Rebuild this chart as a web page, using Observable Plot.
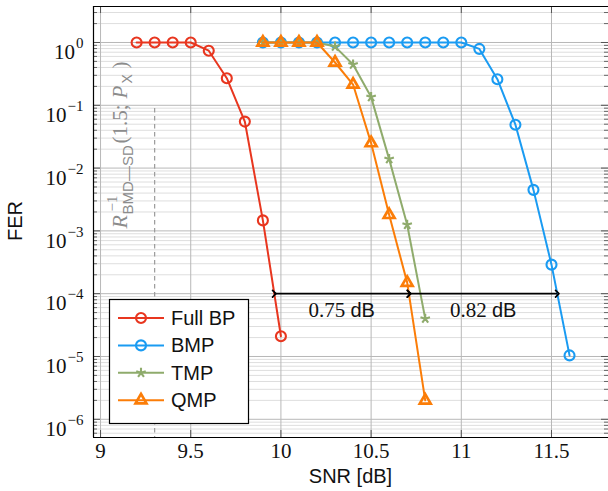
<!DOCTYPE html>
<html><head><meta charset="utf-8">
<script src="https://cdn.jsdelivr.net/npm/d3@7"></script>
<script src="https://cdn.jsdelivr.net/npm/@observablehq/plot@0.6"></script>
<style>html,body{margin:0;padding:0;background:#fff}</style>
</head><body><div id="chart"></div>
<script>
// ---- data ----
const snrFullBP = [9.2, 9.3, 9.4, 9.5, 9.6, 9.7, 9.8, 9.9, 10.0];
const ferFullBP = [1, 1, 1, 1, 0.74, 0.27, 0.055, 1.47e-3, 2.1e-5];
const snrBMP = [9.9, 10.0, 10.1, 10.2, 10.3, 10.4, 10.5, 10.6, 10.7, 10.8, 10.9, 11.0, 11.1, 11.2, 11.3, 11.4, 11.5, 11.6];
const ferBMP = [1, 1, 1, 1, 1, 1, 1, 1, 1, 1, 1, 1, 0.79, 0.26, 0.049, 4.5e-3, 2.9e-4, 1.04e-5];
const snrTMP = [9.9, 10.0, 10.1, 10.2, 10.3, 10.4, 10.5, 10.6, 10.7, 10.8];
const ferTMP = [1, 1, 1, 1, 0.86, 0.446, 0.135, 0.0139, 1.25e-3, 4.0e-5];
const snrQMP = [9.9, 10.0, 10.1, 10.2, 10.3, 10.4, 10.5, 10.6, 10.7, 10.8];
const ferQMP = [1, 1, 1, 1, 0.48, 0.214, 0.025, 1.8e-3, 1.5e-4, 2.0e-6];
const seriesNames = ["Full BP", "BMP", "TMP", "QMP"];
const xTicks = [9, 9.5, 10, 10.5, 11, 11.5];
const xTickLabels = ["9", "9.5", "10", "10.5", "11", "11.5"];
const yTicks = [1, 1e-1, 1e-2, 1e-3, 1e-4, 1e-5, 1e-6];
const yTickExp = ["0", "−1", "−2", "−3", "−4", "−5", "−6"];
const gapX = [[9.963, 10.71], [10.71, 11.532]];
const gapLevel = 1e-4;
const gapLabels = ["0.75", "0.82"];
const boundSNR = 9.3;
const boundTop = 0.089;

// ---- styles ----
const colors = ["#e8361f", "#1a9bf2", "#8fab6c", "#fb7d08"];
const serif = "'Liberation Serif','DejaVu Serif',serif";
const sans = "'Liberation Sans',Arial,sans-serif";
const W = 608, H = 491, mL = 93, mR = 0, mT = 6, mB = 54;
const xDomain = [8.961, 11.816];
const yDomain = [Math.pow(10, -6.29), Math.pow(10, 0.573)];
const xPx = (W - mL - mR) / (xDomain[1] - xDomain[0]);
const yPxDec = (H - mT - mB) / (Math.log10(yDomain[1]) - Math.log10(yDomain[0]));
const dxu = px => px / xPx;
const yMul = px => Math.pow(10, -px / yPxDec);

const minorY = [];
for (let k = -7; k <= 0; k++) for (let m = 2; m <= 9; m++) {
  const v = m * Math.pow(10, k);
  if (v > yDomain[0] && v < yDomain[1]) minorY.push(v);
}

const triangleSym = {draw(ctx, size) {
  const r = Math.sqrt(size / Math.PI), h = r * Math.sqrt(3) / 2;
  ctx.moveTo(0, -r); ctx.lineTo(h, r / 2); ctx.lineTo(-h, r / 2); ctx.closePath();
}};
const starSym = {draw(ctx, size) {
  const r = Math.sqrt(size / Math.PI);
  for (let i = 0; i < 5; i++) {
    const a = -Math.PI / 2 + i * 2 * Math.PI / 5;
    ctx.moveTo(0, 0); ctx.lineTo(r * Math.cos(a), r * Math.sin(a));
  }
}};
const symbols = ["circle", "circle", starSym, triangleSym];
const radii = [5, 5, 5, 6.3];
const markStroke = [2.1, 2.1, 2.1, 2.7];

const table = (xs, ys) => xs.map((x, i) => ({x, y: ys[i]}));
const series = [table(snrFullBP, ferFullBP), table(snrBMP, ferBMP), table(snrTMP, ferTMP), table(snrQMP, ferQMP)];

const seriesMarks = series.flatMap((d, i) => [
  Plot.line(d, {x: "x", y: "y", stroke: colors[i], strokeWidth: 2}),
  Plot.dot(d, {x: "x", y: "y", r: radii[i], symbol: () => symbols[i], stroke: colors[i], strokeWidth: markStroke[i], fill: "none"})
]);

const chart = Plot.plot({
  width: W, height: H,
  marginLeft: mL, marginRight: mR, marginTop: mT, marginBottom: mB,
  style: {background: "#fff", overflow: "hidden"},
  x: {domain: xDomain, label: null},
  y: {type: "log", domain: yDomain, label: null},
  symbol: {type: "identity"},
  marks: [
    Plot.ruleY(minorY, {stroke: "#dedede", strokeWidth: 1}),
    Plot.ruleY(yTicks, {stroke: "#b8b8b8", strokeWidth: 1}),
    Plot.ruleX(xTicks, {stroke: "#b8b8b8", strokeWidth: 1}),
    // inward ticks
    Plot.ruleY(minorY, {x1: xDomain[0], x2: xDomain[0] + dxu(4), stroke: "#666"}),
    Plot.ruleY(yTicks, {x1: xDomain[0], x2: xDomain[0] + dxu(7), stroke: "#555"}),
    Plot.ruleY(minorY, {x1: xDomain[1] - dxu(4), x2: xDomain[1], stroke: "#666"}),
    Plot.ruleY(yTicks, {x1: xDomain[1] - dxu(7), x2: xDomain[1], stroke: "#555"}),
    Plot.ruleX(xTicks, {y1: yDomain[1], y2: yDomain[1] * yMul(7), stroke: "#555"}),
    Plot.ruleX(xTicks, {y1: yDomain[0], y2: yDomain[0] / yMul(7), stroke: "#555"}),
    // frame
    Plot.ruleY([yDomain[1]], {stroke: "#000", strokeWidth: 1.2}),
    Plot.ruleY([yDomain[0]], {stroke: "#000", strokeWidth: 1.2}),
    Plot.ruleX([xDomain[0]], {stroke: "#000", strokeWidth: 1.2}),
    // bound line
    Plot.ruleX([boundSNR], {y1: boundTop, y2: yDomain[0], stroke: "#9a9a9a", strokeWidth: 1.2, strokeDasharray: "4.5,3.5"}),
    ...seriesMarks,
    Plot.link(gapX, {x1: d => d[0], x2: d => d[1], y1: () => gapLevel, y2: () => gapLevel,
      stroke: "#000", strokeWidth: 1.7, markerStart: "arrow", markerEnd: "arrow"}),
    Plot.text(gapX, {x: d => (d[0] + d[1]) / 2, y: () => gapLevel, text: (d, i) => gapLabels[i] + "|dB",
      dy: 16.5, fontSize: 21, fontFamily: serif, fill: "#111"}),
    Plot.axisX(xTicks, {tickSize: 0, tickPadding: 6, fontSize: 21, fontFamily: serif, fill: "#111",
      tickFormat: d => xTickLabels[xTicks.indexOf(d)], label: null}),
    Plot.axisY(yTicks, {tickSize: 0, tickPadding: 10, fontSize: 21, fontFamily: serif, fill: "#111",
      tickFormat: d => "10^" + yTickExp[yTicks.indexOf(d)], label: null})
  ]
});
document.getElementById("chart").appendChild(chart);

const svg = d3.select(chart);
const xs = chart.scale("x"), ys = chart.scale("y");

// y tick labels with superscripts; gap labels with sans "dB"
svg.selectAll("text").each(function() {
  const t = d3.select(this);
  const s = t.text();
  if (s.includes("^")) {
    const [base, exp] = s.split("^");
    t.text("").attr("dy", null);
    t.append("tspan").attr("dy", 10).text(base);
    t.append("tspan").attr("dy", -11).attr("dx", 1).attr("font-size", 15).text(exp);
  } else if (s.includes("|")) {
    const [num, unit] = s.split("|");
    t.text("");
    t.append("tspan").text(num + " ");
    t.append("tspan").attr("font-family", sans).attr("font-size", 20).text(unit);
  }
});

// rotated bound label (local x runs upward along the line)
{
  const bx = xs.apply(boundSNR) - 27, by = ys.apply(1e-3) - 2;
  const g = svg.append("g").attr("transform", `translate(${bx},${by}) rotate(-90)`)
    .attr("fill", "#8c8c8c").attr("text-anchor", "start");
  const part = (x, y, txt, size, fam, italic) => g.append("text").attr("x", x).attr("y", y)
    .attr("font-size", size).attr("font-family", fam).attr("font-style", italic ? "italic" : null).text(txt);
  part(0, 0, "R", 22, serif, true);
  part(17, -10, "−1", 15, serif, false);
  part(14, 6, "BMD—SD", 15, sans, false);
  part(85, 0, "(1.5;", 21, serif, false);
  part(130, 0, "P", 21, serif, true);
  part(145, 5, "X", 14, sans, false);
  part(160, 0, ")", 21, serif, false);
}

// axis labels
svg.append("text").attr("transform", "translate(22,221) rotate(-90)").attr("text-anchor", "middle")
  .attr("font-size", 20).attr("font-family", sans).attr("fill", "#111").text("FER");
svg.append("text").attr("x", (mL + W - mR) / 2).attr("y", 483).attr("text-anchor", "middle")
  .attr("font-size", 20).attr("font-family", sans).attr("fill", "#111").text("SNR [dB]");

// legend
{
  const lg = svg.append("g");
  lg.append("rect").attr("x", 109.5).attr("y", 299.5).attr("width", 139).attr("height", 124)
    .attr("fill", "#fff").attr("stroke", "#000").attr("stroke-width", 1.2);
  seriesNames.forEach((name, i) => {
    const cy = 318 + i * 27.4;
    lg.append("line").attr("x1", 118).attr("x2", 164).attr("y1", cy).attr("y2", cy)
      .attr("stroke", colors[i]).attr("stroke-width", 2);
    const sym = symbols[i] === "circle" ? d3.symbolCircle : symbols[i];
    lg.append("path").attr("transform", `translate(141,${cy})`)
      .attr("d", d3.symbol(sym, Math.PI * radii[i] * radii[i])())
      .attr("fill", "none").attr("stroke", colors[i]).attr("stroke-width", markStroke[i]);
    lg.append("text").attr("x", 171).attr("y", cy + 7).attr("font-size", 20).attr("font-family", sans)
      .attr("text-anchor", "start").attr("fill", "#111").text(name);
  });
}
</script></body></html>
